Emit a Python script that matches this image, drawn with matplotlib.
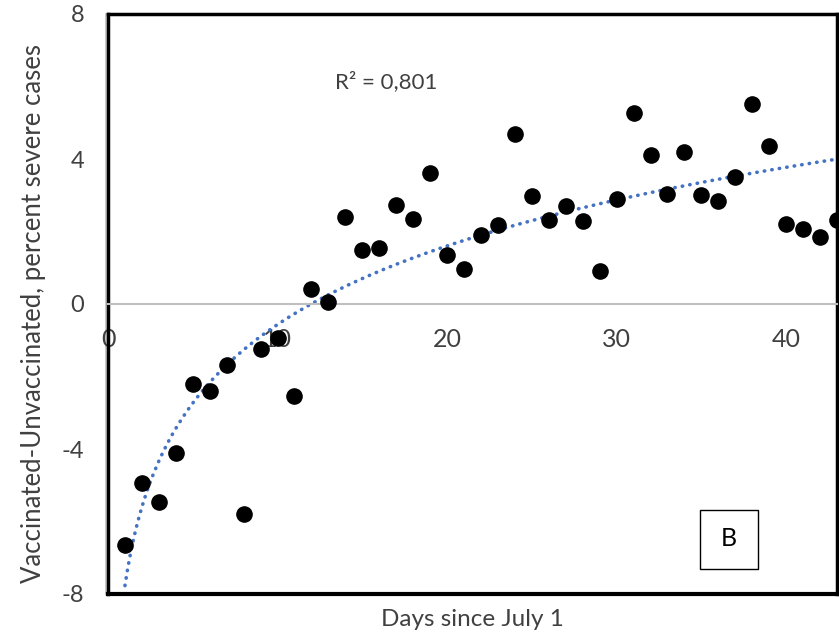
import numpy as np
import matplotlib.pyplot as plt
from matplotlib.patches import Rectangle

plt.rcParams['font.family'] = ['Lato', 'DejaVu Sans']
plt.rcParams['axes.unicode_minus'] = False

# days since July 1 and vaccinated-unvaccinated difference (% severe cases)
days = list(range(1, 44))
diff = [-6.65, -4.95, -5.46, -4.12, -2.22, -2.39, -1.68, -5.78, -1.25, -0.93,
        -2.54, 0.42, 0.05, 2.41, 1.48, 1.55, 2.74, 2.35, 3.62, 1.34,
        0.97, 1.90, 2.19, 4.68, 2.99, 2.31, 2.70, 2.28, 0.90, 2.91,
        5.26, 4.10, 3.03, 4.20, 3.02, 2.85, 3.50, 5.51, 4.37, 2.22,
        2.06, 1.86, 2.33]
x_ticks = [0, 10, 20, 30, 40]
y_ticks = [-8, -4, 0, 4, 8]
r2_label = 'R² = 0,801'
panel = 'B'

# logarithmic trendline, as Excel draws it
b, a = np.polyfit(np.log(days), diff, 1)
xt = np.linspace(min(days), max(days), 300)
yt = a + b * np.log(xt)

fig = plt.figure(figsize=(8.39, 6.32), dpi=100)
ax = fig.add_axes([108 / 839, 38 / 632, 729 / 839, 580 / 632])

ax.plot(xt, yt, color='#4472C4', lw=2.6, linestyle=(0, (0.1, 2.0)),
        dash_capstyle='round', zorder=2)
ax.scatter(days, diff, s=120, color='black', zorder=3, clip_on=True)

ax.set_xlim(0, 43)
ax.set_ylim(-8, 8)
ax.set_xticks(x_ticks)
ax.set_yticks(y_ticks)

# horizontal axis crosses at zero, labels sit just under it
ax.spines['bottom'].set_position(('data', 0))
ax.spines['bottom'].set_color('#BFBFBF')
ax.spines['bottom'].set_linewidth(1.5)
for side in ['left', 'top', 'right']:
    ax.spines[side].set_color('black')
    ax.spines[side].set_linewidth(2.5)
ax.axhline(-8, color='black', lw=3, clip_on=False, zorder=5)
ax.axvline(-0.12, color='#BFBFBF', lw=1.2, clip_on=False, zorder=1)

ax.tick_params(axis='x', length=0, pad=17, labelsize=18, colors='#404040')
ax.tick_params(axis='y', length=0, pad=17, labelsize=17, colors='#404040')

ax.set_xlabel('Days since July 1', fontsize=17.5, color='#404040')
ax.xaxis.set_label_coords(0.5, -0.025)
ax.set_ylabel('Vaccinated-Unvaccinated, percent severe cases', fontsize=18.5,
              color='#404040')
ax.yaxis.set_label_coords(-0.085, 0.483)

ax.text(13.4, 6.14, r2_label, fontsize=16, color='#404040', va='center')

ax.add_patch(Rectangle((34.9, -7.3), 3.45, 1.63, fill=False, ec='black', lw=1, zorder=4))
ax.text(36.62, -6.48, panel, fontsize=18, ha='center', va='center', zorder=4)

fig.savefig('out.png', dpi=100)
